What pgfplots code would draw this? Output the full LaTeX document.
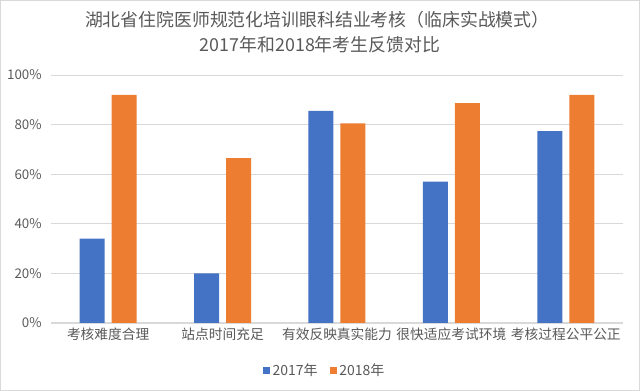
\documentclass[border=0pt]{standalone}
\usepackage{pgfplots}
\pgfplotsset{compat=1.18}
\usepackage{fontspec}
\setmainfont{Noto Sans CJK SC}
\definecolor{cblue}{HTML}{4472C4}
\definecolor{corange}{HTML}{ED7D31}
\definecolor{tgray}{HTML}{595959}
\definecolor{ggray}{HTML}{D9D9D9}
\begin{document}
\begin{tikzpicture}
\path[draw=gray!30, line width=0.5pt] (0.25pt,0.25pt) rectangle (479.75pt,293pt);
\node[text=tgray, font=\fontsize{13.4}{16}\selectfont] at (238pt,278.25pt) {湖北省住院医师规范化培训眼科结业考核（临床实战模式）};
\node[text=tgray, font=\fontsize{13.4}{16}\selectfont] at (240pt,259.5pt) {2017年和2018年考生反馈对比};
\begin{axis}[
  at={(38.25pt,51pt)}, anchor=south west,
  scale only axis, width=429pt, height=186pt,
  ybar=5.25pt, bar width=18.75pt,
  xmin=-0.5, xmax=4.5, ymin=0, ymax=100,
  xtick=data,
  xticklabels={考核难度合理,站点时间充足,有效反映真实能力,很快适应考试环境,考核过程公平公正},
  ytick={0,20,40,60,80,100},
  yticklabel={\pgfmathprintnumber{\tick}\%},
  /pgf/number format/assume math mode=true,
  ticklabel style={text=tgray, font=\fontsize{10}{12}\selectfont},
  xticklabel style={font=\fontsize{10.3}{12}\selectfont},
  yticklabel style={xshift=-3.5pt},
  major tick length=0pt,
  axis line style={draw=none},
  axis x line*=bottom,
  ymajorgrids, grid style={ggray, line width=0.6pt},
  extra y ticks={0}, extra y tick labels={},
  extra y tick style={grid style={ggray, line width=0.8pt}},
  legend style={at={(0.5,-0.19)}, anchor=center, xshift=-9pt, draw=none, legend columns=2,
    font=\fontsize{10.5}{12}\selectfont, text=tgray,
    /tikz/every even column/.append style={column sep=7pt}},
  legend image code/.code={\fill (0pt,-2.6pt) rectangle (5.2pt,2.6pt);},
]
\addplot[fill=cblue, draw=none] coordinates {(0,34) (1,20) (2,85.5) (3,57) (4,77.4)};
\addplot[fill=corange, draw=none] coordinates {(0,92) (1,66.5) (2,80.5) (3,88.7) (4,92)};
\legend{2017年,2018年}
\end{axis}
\end{tikzpicture}
\end{document}
